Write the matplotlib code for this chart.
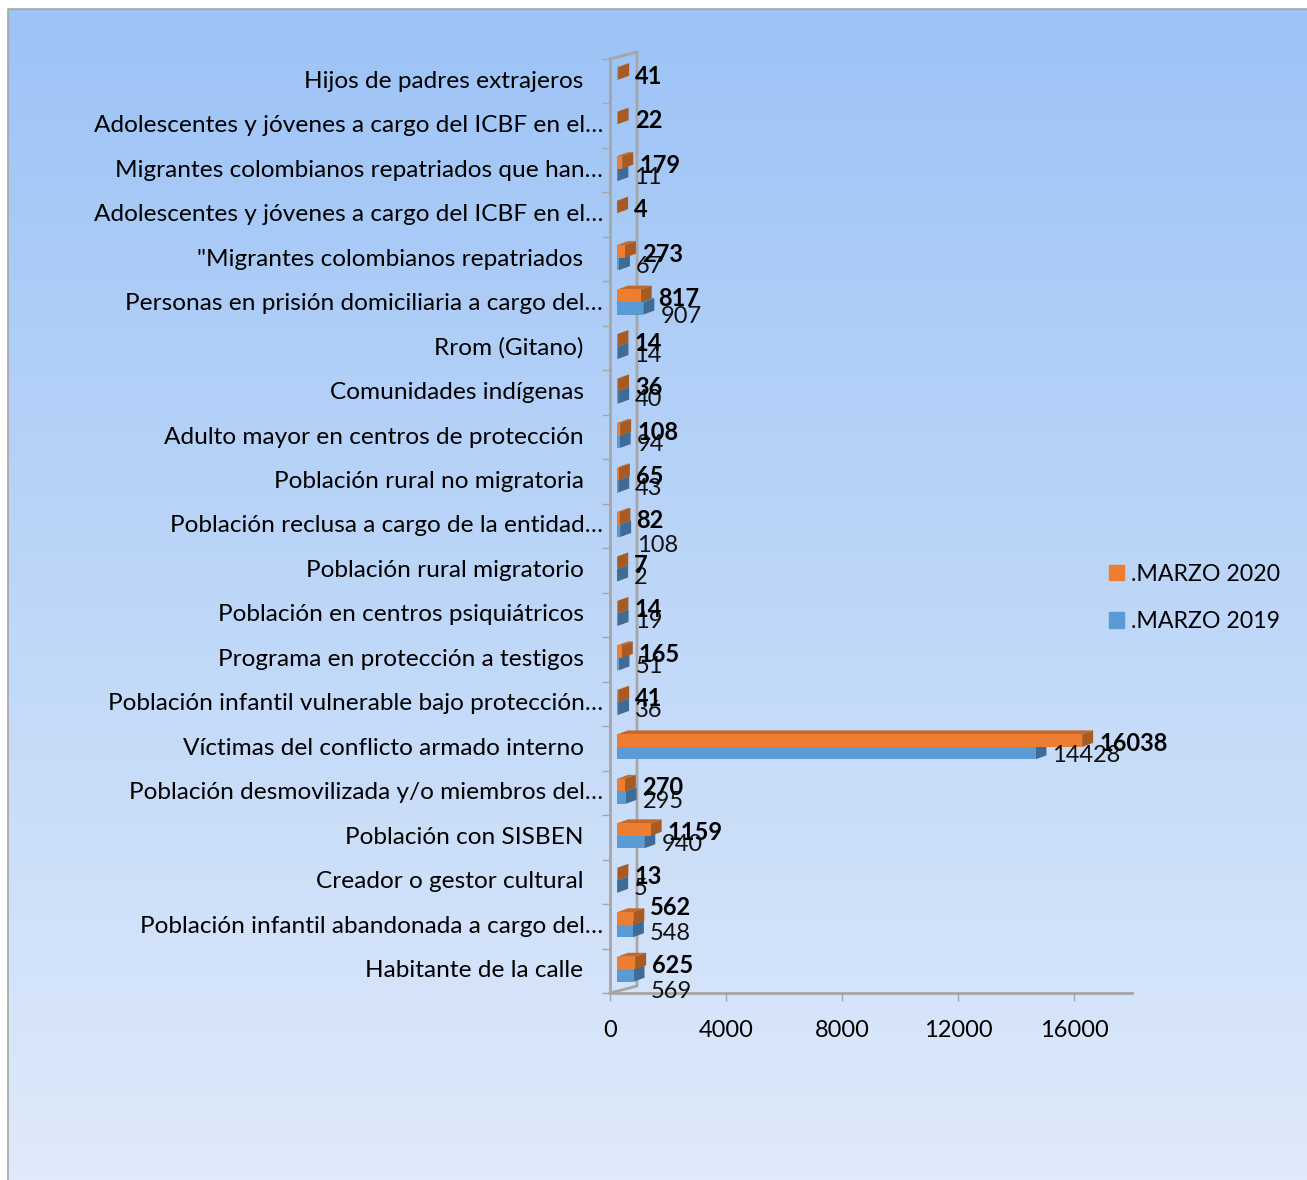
import matplotlib.pyplot as plt
from matplotlib.patches import Patch, Polygon
from matplotlib.transforms import ScaledTranslation
import numpy as np

plt.rcParams['font.family']=['Lato','DejaVu Sans']

categories=['Habitante de la calle',
    'Población infantil abandonada a cargo del…',
    'Creador o gestor cultural',
    'Población con SISBEN',
    'Población desmovilizada y/o miembros del…',
    'Víctimas del conflicto armado interno',
    'Población infantil vulnerable bajo protección…',
    'Programa en protección a testigos',
    'Población en centros psiquiátricos',
    'Población rural migratorio',
    'Población reclusa a cargo de la entidad…',
    'Población rural no migratoria',
    'Adulto mayor en centros de protección',
    'Comunidades indígenas',
    'Rrom (Gitano)',
    'Personas en prisión domiciliaria a cargo del…',
    '"Migrantes colombianos repatriados',
    'Adolescentes y jóvenes a cargo del ICBF en el…',
    'Migrantes colombianos repatriados que han…',
    'Adolescentes y jóvenes a cargo del ICBF en el…',
    'Hijos de padres extrajeros']
marzo_2020=[625,562,13,1159,270,16038,41,165,14,7,82,65,108,36,14,817,273,4,179,22,41]
marzo_2019=[569,548,5,940,295,14428,36,51,19,2,108,43,94,40,14,907,67,None,11,None,None]
x_ticks=[0,4000,8000,12000,16000]

"""Bar look, px on the figure are converted with these"""
width_px=1307
height_px=1180
px_x=18000/522
px_y=21/934
bar_start=7*px_x
depth_x=11*px_x
depth_y=4*px_y
bar_height=12.5*px_y
font_size=17

orange=['#ed7d31','#c4692a','#a85a23']
blue=['#5b9bd5','#4a80b0','#3e6c97']
grey='#a6a6a6'

# labels that were moved by hand in the original (row: px shift)
shift_2020={1:-14}
shift_2019={0:14,1:0,4:2,10:12,15:6}

def draw_bar(ax,row,value,top,colors):
    bottom=top-bar_height
    left=bar_start
    right=left+value
    ax.add_patch(Polygon([(left,top),(left+depth_x,top+depth_y),(right+depth_x,top+depth_y),(right,top)],
        facecolor=colors[1],edgecolor='none',zorder=3))
    ax.add_patch(Polygon([(right,bottom),(right+depth_x,bottom+depth_y),(right+depth_x,top+depth_y),(right,top)],
        facecolor=colors[2],edgecolor='none',zorder=3))
    ax.barh(top-bar_height/2,value,height=bar_height,left=left,color=colors[0],zorder=3)

def main():
    fig=plt.figure(figsize=(width_px/100,height_px/100),dpi=100)

    back=fig.add_axes([0,0,1,1])
    back.set_xlim(0,width_px)
    back.set_ylim(height_px,0)
    back.axis('off')
    gradient=np.linspace(0,1,256).reshape(-1,1)
    start=np.array([0x9c,0xc3,0xf6])/255
    end=np.array([0xdf,0xea,0xfa])/255
    back.imshow(start+(end-start)*gradient[:,:,None],extent=[8,width_px,height_px,9],aspect='auto')
    back.set_xlim(0,width_px)
    back.set_ylim(height_px,0)
    back.plot([7.5,7.5,width_px],[height_px,8.5,8.5],color=grey,lw=1.2)

    ax=fig.add_axes([610/width_px,1-993/height_px,522/width_px,934/height_px])
    ax.patch.set_alpha(0)
    ax.set_xlim(0,18000)
    ax.set_ylim(-0.5,20.5)

    rows=np.arange(len(categories))
    for row,(v20,v19) in enumerate(zip(marzo_2020,marzo_2019)):
        mid=row+1.5*px_y
        if v19 is not None:
            draw_bar(ax,row,v19,mid,blue)
            end_x=bar_start+v19+depth_x
            ax.annotate(str(v19),(end_x,row),xytext=(6,-7-shift_2019.get(row,0)),textcoords='offset pixels',
                va='center',ha='left',fontsize=font_size,color='#111111',zorder=5)
        draw_bar(ax,row,v20,mid+bar_height,orange)
        end_x=bar_start+v20+depth_x
        ax.annotate(str(v20),(end_x,row),xytext=(6,5-shift_2020.get(row,0)),textcoords='offset pixels',
            va='center',ha='left',fontsize=font_size,fontweight='bold',color='black',zorder=6)

    # the back wall of the 3d box
    wall_x=27*px_x
    wall_y=7*px_y
    ax.plot([0,wall_x,wall_x,0],[20.5,20.5+wall_y,-0.5+wall_y,-0.5],color=grey,lw=2,clip_on=False,zorder=2)

    for side in ['top','right']:
        ax.spines[side].set_visible(False)
    for side in ['left','bottom']:
        ax.spines[side].set_color(grey)
        ax.spines[side].set_linewidth(2)

    ax.set_xticks(x_ticks)
    ax.tick_params(axis='x',length=5.5,width=1,color=grey,pad=14,labelsize=font_size)
    ax.set_yticks(rows)
    ax.set_yticklabels(categories)
    ax.tick_params(axis='y',which='major',length=0,labelsize=17.6)
    ax.set_yticks(np.arange(-0.5,21,1),minor=True)
    ax.tick_params(axis='y',which='minor',length=6,width=1,color=grey)
    up=ScaledTranslation(0,2/100,fig.dpi_scale_trans)
    for tick,name in zip(ax.yaxis.get_major_ticks(),categories):
        if name.endswith('…'):
            tick.set_pad(5)
        else:
            tick.set_pad(19)
        tick.label1.set_transform(tick.label1.get_transform()+up)

    handles=[Patch(color=orange[0],label='.MARZO 2020'),Patch(color=blue[0],label='.MARZO 2019')]
    fig.legend(handles=handles,loc='center left',bbox_to_anchor=(1102/width_px,1-598/height_px),frameon=False,
        fontsize=16.7,handlelength=0.65,handleheight=0.65,handletextpad=0.3,labelspacing=1.13,borderpad=0,borderaxespad=0.3)

    fig.savefig('out.png',dpi=100)

main()
